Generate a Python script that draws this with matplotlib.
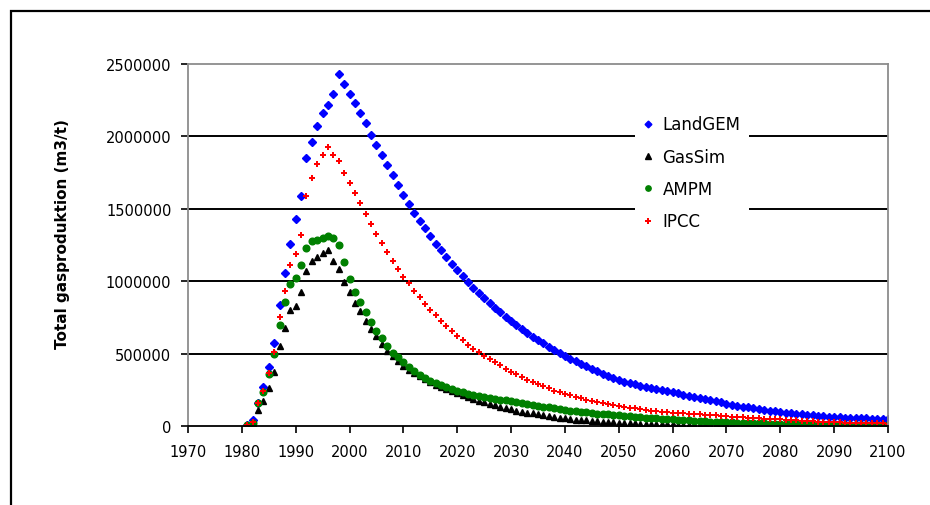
import matplotlib
matplotlib.use("Agg")
import matplotlib.pyplot as plt
from matplotlib.patches import Rectangle

# yearly values 1981-2100, in thousands of m3/t
years = list(range(1981, 2101))

landgem_k = [
    10, 40, 160, 270, 405, 575, 835, 1060, 1260, 1430,
    1585, 1850, 1960, 2070, 2160, 2220, 2290, 2430, 2365, 2295,
    2230, 2160, 2090, 2010, 1940, 1875, 1805, 1735, 1665, 1595,
    1535, 1470, 1415, 1365, 1315, 1260, 1215, 1165, 1120, 1075,
    1035, 995, 955, 920, 885, 850, 815, 785, 755, 725,
    697, 670, 643, 617, 592, 570, 548, 526, 505, 485,
    466, 447, 429, 411, 393, 377, 362, 347, 332, 318,
    307, 297, 287, 278, 270, 262, 254, 247, 240, 233,
    225, 217, 209, 201, 194, 186, 178, 171, 163, 155,
    148, 140, 134, 128, 122, 117, 111, 106, 101, 97,
    93, 89, 85, 81, 77, 74, 71, 68, 65, 62,
    60, 58, 57, 55, 54, 52, 51, 50, 48, 47,
]

gassim_k = [
    5, 15, 110, 175, 265, 375, 555, 680, 800, 830,
    925, 1070, 1142, 1170, 1195, 1215, 1142, 1084, 995, 923,
    850, 796, 727, 670, 620, 566, 520, 486, 451, 416,
    390, 366, 344, 322, 302, 285, 268, 253, 240, 227,
    214, 200, 187, 174, 163, 152, 142, 132, 123, 115,
    107, 100, 93, 87, 81, 75, 69, 63, 58, 53,
    48, 44, 41, 38, 35, 32, 30, 28, 26, 24,
    22, 20, 19, 17, 16, 15, 14, 13, 12, 11,
    10, 9, 9, 8, 8, 7, 7, 6, 6, 6,
    5, 5, 5, 4, 4, 4, 4, 3, 3, 3,
    3, 3, 3, 2, 2, 2, 2, 2, 2, 2,
    2, 1, 1, 1, 1, 1, 1, 1, 1, 1,
]

ampm_k = [
    5, 20, 160, 235, 360, 495, 695, 855, 980, 1025,
    1110, 1230, 1275, 1285, 1300, 1312, 1300, 1252, 1130, 1015,
    923, 858, 785, 716, 658, 606, 555, 504, 474, 440,
    407, 380, 355, 332, 313, 297, 281, 267, 254, 242,
    232, 223, 215, 208, 201, 195, 189, 183, 177, 171,
    165, 159, 153, 146, 140, 134, 128, 122, 116, 111,
    106, 102, 98, 94, 90, 86, 83, 80, 77, 73,
    70, 67, 64, 61, 58, 55, 53, 50, 48, 46,
    43, 41, 38, 36, 34, 32, 30, 29, 27, 26,
    25, 24, 22, 21, 20, 19, 18, 17, 16, 15,
    15, 14, 13, 13, 12, 11, 11, 10, 10, 9,
    9, 8, 8, 8, 7, 7, 7, 6, 6, 6,
]

ipcc_k = [
    5, 30, 160, 245, 365, 510, 750, 930, 1110, 1190,
    1320, 1590, 1710, 1810, 1870, 1925, 1870, 1830, 1750, 1680,
    1607, 1538, 1464, 1395, 1326, 1264, 1202, 1140, 1084, 1027,
    985, 934, 889, 843, 803, 767, 727, 693, 658, 624,
    594, 562, 532, 508, 486, 463, 442, 418, 396, 376,
    357, 338, 320, 303, 288, 273, 259, 245, 233, 222,
    211, 201, 192, 183, 175, 167, 160, 152, 145, 138,
    132, 126, 121, 116, 111, 107, 103, 99, 96, 93,
    90, 88, 85, 83, 80, 78, 75, 73, 70, 68,
    65, 63, 60, 58, 56, 53, 51, 49, 47, 45,
    42, 40, 38, 36, 34, 32, 30, 29, 27, 26,
    25, 24, 23, 22, 21, 20, 19, 18, 18, 17,
]

x_ticks = list(range(1970, 2101, 10))
y_ticks = [0, 500000, 1000000, 1500000, 2000000, 2500000]

plt.rcParams['font.family'] = ['DejaVu Sans']

fig = plt.figure(figsize=(9.3, 5.06), dpi=100)
ax = fig.add_axes([188 / 930, 1 - 427 / 506, 700 / 930, 362 / 506])

def scaled(vals):
    return [v * 1000 for v in vals]

ax.plot(years, scaled(landgem_k), ls='none', marker='D', ms=4.3, color='#0000ff', mec='#0000ff', label='LandGEM')
ax.plot(years, scaled(gassim_k), ls='none', marker='^', ms=5, color='black', label='GasSim')
ax.plot(years, scaled(ampm_k), ls='none', marker='o', ms=4.8, color='#008000', label='AMPM')
ax.plot(years, scaled(ipcc_k), ls='none', marker='P', ms=5, color='#ff0000', mew=0, label='IPCC')

ax.set_xlim(1970, 2100)
ax.set_ylim(0, 2500000)
ax.set_xticks(x_ticks)
ax.set_xticklabels([str(t) for t in x_ticks], fontsize=10.5)
ax.set_yticks(y_ticks)
ax.set_yticklabels([str(t) for t in y_ticks], fontsize=10.5)
ax.tick_params(axis='both', direction='out', length=5, width=1.2, color='black')
ax.tick_params(axis='y', pad=7)
ax.tick_params(axis='x', pad=8)

# horizontal grid lines, but not on the bottom axis or the top frame
ax.yaxis.grid(True, color='black', lw=1.4)
glines = ax.get_ygridlines()
glines[0].set_visible(False)
glines[-1].set_visible(False)
ax.set_axisbelow(True)

for side in ['left', 'top', 'right']:
    ax.spines[side].set_color('#8c8c8c')
    ax.spines[side].set_linewidth(1.3)
ax.spines['bottom'].set_color('black')
ax.spines['bottom'].set_linewidth(1.3)

leg = ax.legend(loc='upper left', bbox_to_anchor=(0.6386, 0.881), frameon=True,
                fancybox=False, edgecolor='white', facecolor='white', framealpha=1,
                fontsize=12, handlelength=0.6, handletextpad=0.55, labelspacing=0.86,
                borderpad=0.5, borderaxespad=0, markerscale=0.8)
leg.get_frame().set_linewidth(0)

fig.text(62 / 930, 1 - 234 / 506, 'Total gasproduktion (m3/t)', rotation=90,
         ha='center', va='center', fontsize=11, fontweight='bold')

# outer frame of the page (left and top edges visible)
fig.add_artist(Rectangle((11 / 930, -0.5), 2, 1.5 - 12 / 506, transform=fig.transFigure,
                         fill=False, ec='black', lw=1.6))

fig.savefig('out.png', dpi=100, facecolor='white')
